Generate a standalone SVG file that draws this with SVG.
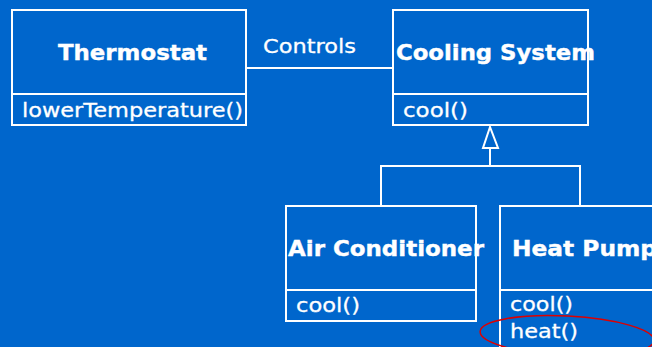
<svg xmlns="http://www.w3.org/2000/svg" width="652" height="347" viewBox="0 0 652 347">
<style>
.box{fill:none;stroke:#fff;stroke-width:2}
.ln{fill:none;stroke:#fff;stroke-width:2}
.t{font-family:"DejaVu Sans",Verdana,sans-serif;font-weight:bold;font-size:22px;fill:#fff;stroke:#fff;stroke-width:0.4}
.m{font-family:"DejaVu Sans",Verdana,sans-serif;font-size:20px;fill:#fff;stroke:#fff;stroke-width:0.3}
</style>
<rect width="652" height="347" fill="#0066CC"/>
<g id="thermostat">
<rect class="box" x="12" y="10" width="234" height="115"/>
<line class="ln" x1="12" y1="94" x2="246" y2="94"/>
<text class="t" x="58" y="60" textLength="149" lengthAdjust="spacingAndGlyphs">Thermostat</text>
<text class="m" x="22" y="117" textLength="221" lengthAdjust="spacingAndGlyphs">lowerTemperature()</text>
</g>
<g id="cooling-system">
<rect class="box" x="393" y="10" width="195" height="115"/>
<line class="ln" x1="393" y1="94" x2="588" y2="94"/>
<text class="t" x="396" y="60" textLength="199" lengthAdjust="spacingAndGlyphs">Cooling System</text>
<text class="m" x="403" y="117" textLength="65" lengthAdjust="spacingAndGlyphs">cool()</text>
</g>
<g id="air-conditioner">
<rect class="box" x="286" y="206" width="190" height="115"/>
<line class="ln" x1="286" y1="290" x2="476" y2="290"/>
<text class="t" x="288" y="256" textLength="196" lengthAdjust="spacingAndGlyphs">Air Conditioner</text>
<text class="m" x="296" y="312" textLength="64" lengthAdjust="spacingAndGlyphs">cool()</text>
</g>
<g id="heat-pump">
<rect class="box" x="500" y="206" width="170" height="160"/>
<line class="ln" x1="500" y1="290" x2="670" y2="290"/>
<text class="t" x="512" y="256" textLength="145" lengthAdjust="spacingAndGlyphs">Heat Pump</text>
<text class="m" x="510" y="311" textLength="63" lengthAdjust="spacingAndGlyphs">cool()</text>
<text class="m" x="510" y="338" textLength="68" lengthAdjust="spacingAndGlyphs">heat()</text>
<ellipse cx="567" cy="336" rx="87" ry="20" fill="none" stroke="#DD0000" stroke-width="1.5" transform="rotate(3 567 336)"/>
</g>
<g id="connectors">
<line class="ln" x1="246" y1="68" x2="393" y2="68"/>
<text class="m" x="263" y="53" textLength="93" lengthAdjust="spacingAndGlyphs">Controls</text>
<polygon points="490,127 483,148 498,148" fill="none" stroke="#fff" stroke-width="2"/>
<polyline class="ln" points="490,148 490,166"/>
<polyline class="ln" points="381,206 381,166 580,166 580,206"/>
</g>
</svg>
